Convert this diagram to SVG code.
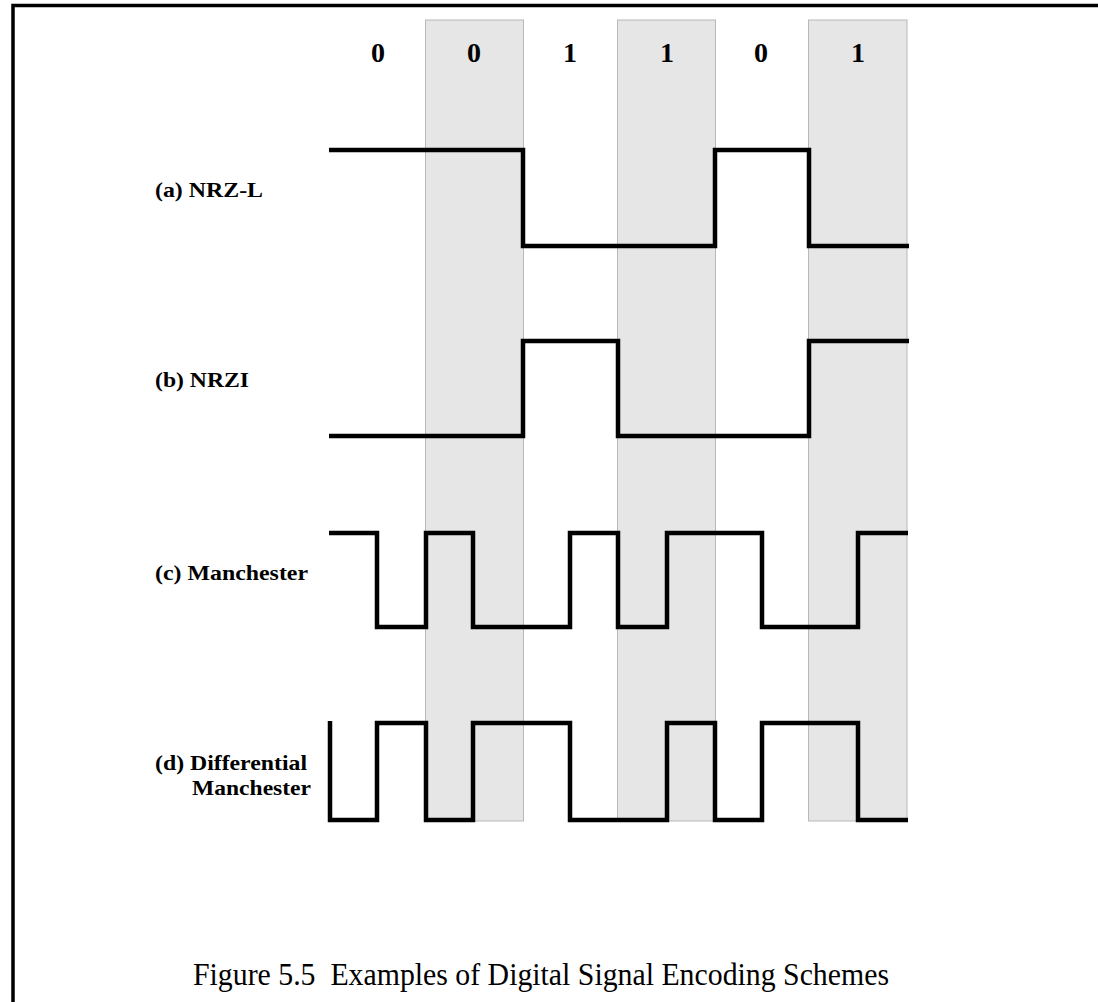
<svg xmlns="http://www.w3.org/2000/svg" width="1098" height="1002" viewBox="0 0 1098 1002">
<style>
.col{fill:#e6e6e6;stroke:#b8b8b8;stroke-width:1}
.sig{fill:none;stroke:#000;stroke-width:4.5;stroke-linejoin:miter;stroke-linecap:butt}
.bit{font-family:"Liberation Serif",serif;font-size:28px;font-weight:bold;fill:#000;text-anchor:middle}
.lbl{font-family:"Liberation Serif",serif;font-size:21px;font-weight:bold;fill:#000}
.cap{font-family:"Liberation Serif",serif;font-size:31px;fill:#000;white-space:pre}
</style>
<rect x="0" y="0" width="1098" height="1002" fill="#fff"/>
<g id="frame">
<path d="M13,1002 V5.5 H1098" fill="none" stroke="#000" stroke-width="3.5"/>
</g>
<g id="columns">
<rect class="col" x="425.5" y="20" width="98" height="801"/>
<rect class="col" x="617.5" y="20" width="98" height="801"/>
<rect class="col" x="808.5" y="20" width="98.5" height="801"/>
</g>
<g id="bits">
<text class="bit" x="378" y="62">0</text>
<text class="bit" x="474" y="62">0</text>
<text class="bit" x="570" y="62">1</text>
<text class="bit" x="667" y="62">1</text>
<text class="bit" x="761" y="62">0</text>
<text class="bit" x="858" y="62">1</text>
</g>
<g id="connectors">
<path id="nrzl" class="sig" d="M329,150 H523 V246 H715 V150 H809 V246 H909"/>
<path id="nrzi" class="sig" d="M329,436 H523 V341 H618 V436 H809 V341 H909"/>
<path id="manchester" class="sig" d="M329,533 H377 V627 H426 V533 H473 V627 H570 V533 H618 V627 H667 V533 H762 V627 H858 V533 H908"/>
<path id="diffman" class="sig" d="M330,721 V820 H377 V723 H426 V820 H473 V723 H570 V820 H667 V723 H715 V820 H762 V723 H858 V820 H908"/>
</g>
<g id="label-a"><text class="lbl" x="155" y="197" textLength="108" lengthAdjust="spacingAndGlyphs">(a) NRZ-L</text></g>
<g id="label-b"><text class="lbl" x="155" y="387" textLength="94" lengthAdjust="spacingAndGlyphs">(b) NRZI</text></g>
<g id="label-c"><text class="lbl" x="155" y="580" textLength="153" lengthAdjust="spacingAndGlyphs">(c) Manchester</text></g>
<g id="label-d">
<text class="lbl" x="155" y="770" textLength="152" lengthAdjust="spacingAndGlyphs">(d) Differential</text>
<text class="lbl" x="192" y="795" textLength="119" lengthAdjust="spacingAndGlyphs">Manchester</text>
</g>
<g id="caption"><text class="cap" x="193" y="985" textLength="696" lengthAdjust="spacingAndGlyphs">Figure 5.5  Examples of Digital Signal Encoding Schemes</text></g>
</svg>
